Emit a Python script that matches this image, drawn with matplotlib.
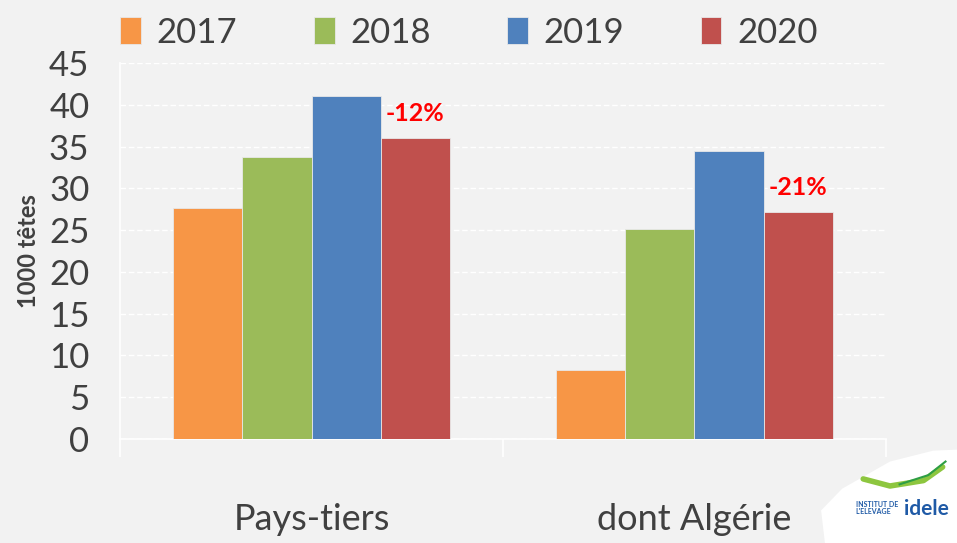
#import relevant libraries
import numpy as np
import matplotlib.pyplot as plt
from matplotlib.patches import Polygon
from matplotlib.lines import Line2D

#data
categories = ['Pays-tiers', 'dont Algérie']
years = ['2017', '2018', '2019', '2020']
v2017 = [27.7, 8.3]
v2018 = [33.8, 25.1]
v2019 = [41.0, 34.5]
v2020 = [36.0, 27.2]
evolution = ['-12%', '-21%']
y_ticks = [0, 5, 10, 15, 20, 25, 30, 35, 40, 45]

colors = ['#F79646', '#9BBB59', '#4F81BD', '#C0504D']
bg = '#F2F2F2'
txt = '#404040'

plt.rcParams['font.family'] = ['Lato', 'DejaVu Sans']

fig = plt.figure(figsize=(9.57, 5.43), dpi=100, facecolor=bg)
ax = fig.add_axes([0.1254, 0.1915, 0.8004, 0.6925], facecolor=bg)

#draw the bars
x = np.arange(len(categories))
w = 0.181
series = [v2017, v2018, v2019, v2020]
for i, vals in enumerate(series):
    ax.bar(x + (i - 1.5) * w, vals, width=w, color=colors[i], label=years[i],
           edgecolor='#E8E8E8', linewidth=0.6, zorder=3)

#red percentages above the 2020 bars
for xi, val, lab in zip(x, v2020, evolution):
    ax.text(xi + 1.5 * w, val + 2.9, lab, color='#FF0000', fontsize=18,
            fontweight='bold', ha='center', va='center', zorder=4)

ax.set_xlim(-0.5, 1.5)
ax.set_ylim(0, 45)
ax.set_yticks(y_ticks)
ax.set_yticklabels([str(t) for t in y_ticks], fontsize=25, color=txt)
ax.tick_params(axis='y', length=0, pad=22)

#category ticks at group boundaries, labels in the middle
ax.set_xticks([-0.5, 0.5, 1.5])
ax.set_xticklabels(['', '', ''])
ax.tick_params(axis='x', which='major', length=13, color='white', width=1.2)
ax.set_xticks(x, minor=True)
ax.set_xticklabels(categories, minor=True, fontsize=26, color=txt)
ax.tick_params(axis='x', which='minor', length=0, pad=46)

ax.grid(axis='y', color='white', linestyle=(0, (4, 2)), linewidth=1, zorder=0)
for s in ['top', 'right']:
    ax.spines[s].set_visible(False)
for s in ['left', 'bottom']:
    ax.spines[s].set_color('white')
    ax.spines[s].set_linewidth(1.2)

ax.set_ylabel('1000 têtes', fontsize=17, fontweight='bold', color=txt)
ax.yaxis.set_label_coords(-0.105, 0.5)

#legend on top
leg = fig.legend(loc='center', bbox_to_anchor=(0.49, 0.94), ncol=4, frameon=False,
                 fontsize=25, handlelength=0.6, handleheight=0.85,
                 handletextpad=0.45, columnspacing=2.2, labelcolor=txt)

#logo area bottom right
logo = Polygon([[0.862, 0.0], [0.858, 0.06], [0.88, 0.1], [0.93, 0.15], [0.975, 0.17],
                [1.0, 0.172], [1.0, 0.0]], closed=True, transform=fig.transFigure,
               facecolor='white', edgecolor='none')
fig.patches.append(logo)
fig.lines.append(Line2D([0.902, 0.93, 0.965, 0.985], [0.118, 0.105, 0.115, 0.14],
                        transform=fig.transFigure, color='#8DC63F', linewidth=4,
                        solid_capstyle='round'))
fig.lines.append(Line2D([0.94, 0.97, 0.988], [0.108, 0.125, 0.15],
                        transform=fig.transFigure, color='#2E9E44', linewidth=1.5))
fig.text(0.894, 0.064, "INSTITUT DE\nL'ELEVAGE", color='#1F5AA6', fontsize=5,
         fontweight='bold', ha='left', va='center', linespacing=1.0)
fig.text(0.945, 0.062, 'idele', color='#1F5AA6', fontsize=15, fontweight='bold',
         ha='left', va='center')

fig.savefig('out.png', dpi=100, facecolor=bg)
